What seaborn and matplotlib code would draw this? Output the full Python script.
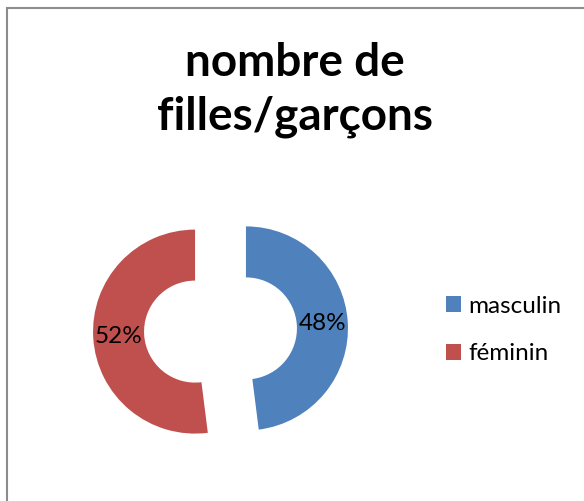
import matplotlib
matplotlib.use("Agg")
import matplotlib.pyplot as plt
import seaborn as sns
from matplotlib.patches import Rectangle

# data
categories = ["masculin", "féminin"]
values = [48, 52]
colors = ["#4F81BD", "#C0504D"]
title = "nombre de\nfilles/garçons"

sns.set_theme(style="white")
plt.rcParams['font.family'] = ['Lato', 'DejaVu Sans']
plt.rcParams['text.color'] = 'black'

W, H = 584, 501
fig = plt.figure(figsize=(W / 100, H / 100), dpi=100)
fig.patch.set_facecolor("white")

# grey chart border (Excel style)
fig.patches.append(Rectangle((7 / W, -0.05), 1.2, 1 - 8 / H + 0.05, transform=fig.transFigure,
                             fill=False, edgecolor="#8c8c8c", linewidth=1.5))

# donut axes: centre ~ (220, 330) px, radius ~ 102 px
r_px = 102
lim = 1.5
side = 2 * lim * r_px
cx, cy = 220.5, H - 330
ax = fig.add_axes([(cx - side / 2) / W, (cy - side / 2) / H, side / W, side / H])
wedges, texts, autotexts = ax.pie(values, colors=colors, startangle=90, counterclock=False,
                                  explode=[0.25, 0.25], autopct='%1.0f%%', pctdistance=0.75,
                                  wedgeprops=dict(width=0.5, linewidth=0),
                                  textprops=dict(fontsize=17.5, color="black"))
ax.set_xlim(-lim, lim)
ax.set_ylim(-lim, lim)
ax.set_aspect("equal")
ax.axis("off")

# baseline of last title line ~130 px from top
fig.text(295 / W, 1 - 130 / H, title, ha="center", va="baseline", fontsize=33,
         fontweight="bold", linespacing=1.34, color="black", multialignment="center")

leg = fig.legend(wedges, categories, loc="center left", bbox_to_anchor=(446 / W, 1 - 330 / H),
                 frameon=False, fontsize=17.5, handlelength=0.6, handleheight=0.6,
                 handletextpad=0.3, labelspacing=1.1, borderaxespad=0, borderpad=0)
for t in leg.get_texts():
    t.set_color("black")

fig.savefig("out.png", dpi=100, facecolor="white")
